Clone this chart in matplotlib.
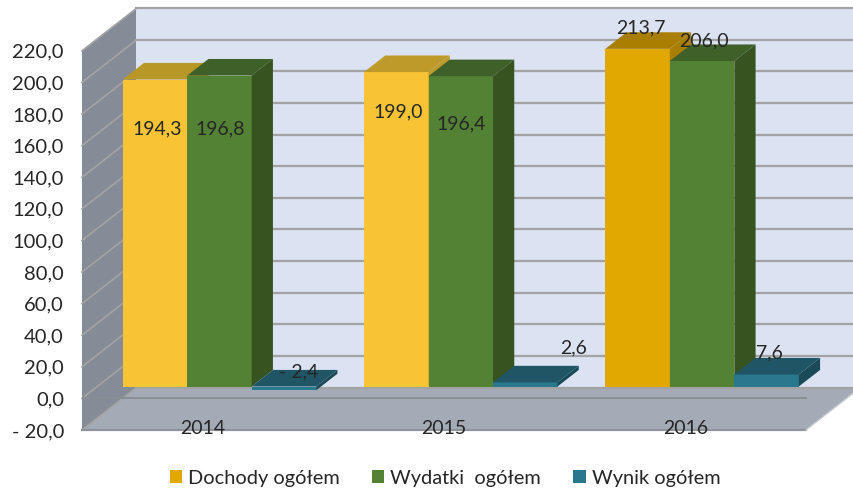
import numpy as np
import matplotlib
matplotlib.use('Agg')
import matplotlib.pyplot as plt
from matplotlib.patches import Patch, Polygon

plt.rcParams['font.family'] = ['Lato', 'DejaVu Sans']

years = ['2014', '2015', '2016']
dochody = [194.3, 199.0, 213.7]
wydatki = [196.8, 196.4, 206.0]
wynik = [-2.4, 2.6, 7.6]
series_names = ['Dochody ogółem', 'Wydatki  ogółem', 'Wynik ogółem']
y_ticks = list(range(-20, 221, 20))
y_tick_labels = ['- 20,0', '0,0', '20,0', '40,0', '60,0', '80,0', '100,0', '120,0',
                 '140,0', '160,0', '180,0', '200,0', '220,0']
value_labels = [['194,3', '199,0', '213,7'], ['196,8', '196,4', '206,0'], ['- 2,4', '2,6', '7,6']]

# (front, top, side) colours per series, per year where they differ
col_doch = [('#F8C435', '#B99727', '#B99727'), ('#F8C435', '#BD9A2A', '#BD9A2A'), ('#E0A800', '#A87F00', '#A87F00')]
col_wyd = ('#548235', '#3F6028', '#375320')
col_wyn = ('#2A788E', '#1F5565', '#1A4A58')
text_col = '#262626'

W, H = 854, 494
fig = plt.figure(figsize=(W / 100, H / 100), dpi=100)
px_x = 241.33
px_y = 1.58
ax = fig.add_axes([82 / W, (H - 430) / H, (W - 82) / W, 430 / H])
ax.set_xlim(-0.5, -0.5 + (W - 82) / px_x)
ax.set_ylim(-20, -20 + 430 / px_y)

# oblique depth, full wall depth in data units
DX = 54.5 / px_x
DY = 42.5 / px_y
x_l, x_r = -0.5, 2.5
x_end = ax.get_xlim()[1]

wall_left = '#858C98'
wall_back = '#DBE2F1'
floor = '#A4ABB6'
grid = '#A3A3A3'

ax.add_patch(Polygon([(x_l, -20), (x_l + DX, -20 + DY), (x_l + DX, 220 + DY), (x_l, 220)],
                     fc=wall_left, ec='none', zorder=1, clip_on=False))
ax.add_patch(Polygon([(x_l + DX, -20 + DY), (x_end, -20 + DY), (x_end, 220 + DY), (x_l + DX, 220 + DY)],
                     fc=wall_back, ec='none', zorder=1, clip_on=False))
ax.add_patch(Polygon([(x_l, -20), (x_r, -20), (x_r + DX, -20 + DY), (x_l + DX, -20 + DY)],
                     fc=floor, ec='none', zorder=1, clip_on=False))

for v in y_ticks:
    ax.plot([x_l, x_l + DX], [v, v + DY], color=grid, lw=1.2, zorder=2, clip_on=False)
    ax.plot([x_l + DX, x_end], [v + DY, v + DY], color=grid, lw=1.6, zorder=2, clip_on=False)
ax.plot([x_l, x_r], [0, 0], color='#8A8F96', lw=1.4, zorder=2)
ax.plot([x_l, x_r], [-20, -20], color='#8F949B', lw=1.6, zorder=2, clip_on=False)
ax.plot([x_r, x_r + DX], [-20, -20 + DY], color='#C8CCD2', lw=1.0, zorder=2, clip_on=False)

bar_w = 64.5 / px_x
d0, d1 = 0.28, 0.67
off_x, off_y = d0 * DX + 1.5 / px_x, d0 * DY
dep_x, dep_y = (d1 - d0) * DX, (d1 - d0) * DY


def draw_bar(x, v, cols, z):
    left = x + off_x
    right = left + bar_w
    base = off_y
    top = base + max(v, 0)
    low = base + min(v, 0)
    ax.bar(left, top - low, bar_w, bottom=low, align='edge', color=cols[0], zorder=z)
    ax.add_patch(Polygon([(left, top), (right, top), (right + dep_x, top + dep_y), (left + dep_x, top + dep_y)],
                         fc=cols[1], ec='none', zorder=z))
    ax.add_patch(Polygon([(right, low), (right + dep_x, low + dep_y), (right + dep_x, top + dep_y), (right, top)],
                         fc=cols[2], ec='none', zorder=z))


for i in range(len(years)):
    start = i - 1.5 * bar_w
    draw_bar(start, dochody[i], col_doch[i], 3 + i)
    draw_bar(start + bar_w, wydatki[i], col_wyd, 3.3 + i)
    draw_bar(start + 2 * bar_w, wynik[i], col_wyn, 3.6 + i)

# label anchor values
label_v = [[170.5, 181.5, 234.5], [170.5, 174, 226], [17, 32, 29]]
label_dx = [[-23.5, -24.5, -22.5], [-25.5, -25.5, -24.5], [-11, 22.5, -23.5]]
for s in range(3):
    for i in range(3):
        cx = i + (s - 1) * bar_w + off_x + label_dx[s][i] / px_x + 26 / px_x
        ax.text(cx, label_v[s][i], value_labels[s][i], ha='center', va='center',
                fontsize=14, color=text_col, zorder=10)

ax.set_xticks(range(3))
ax.set_xticklabels(years)
ax.set_yticks(y_ticks)
ax.set_yticklabels(y_tick_labels)
ax.tick_params(axis='x', length=0, pad=-7.5, labelsize=14, labelcolor=text_col)
ax.tick_params(axis='y', length=0, pad=13, labelsize=14.5, labelcolor=text_col)
for lab in ax.get_xticklabels():
    lab.set_zorder(10)
for sp in ax.spines.values():
    sp.set_visible(False)
ax.patch.set_visible(False)
ax.set_axisbelow(False)

handles = [Patch(fc=col_doch[2][0]), Patch(fc=col_wyd[0]), Patch(fc=col_wyn[0])]
fig.legend(handles, series_names, loc='center', bbox_to_anchor=(445 / W, (H - 478) / H), ncols=3,
           frameon=False, fontsize=14.4, labelcolor=text_col, handlelength=0.62, handleheight=0.62,
           handletextpad=0.3, columnspacing=1.6)

fig.savefig('out.png', dpi=100)
